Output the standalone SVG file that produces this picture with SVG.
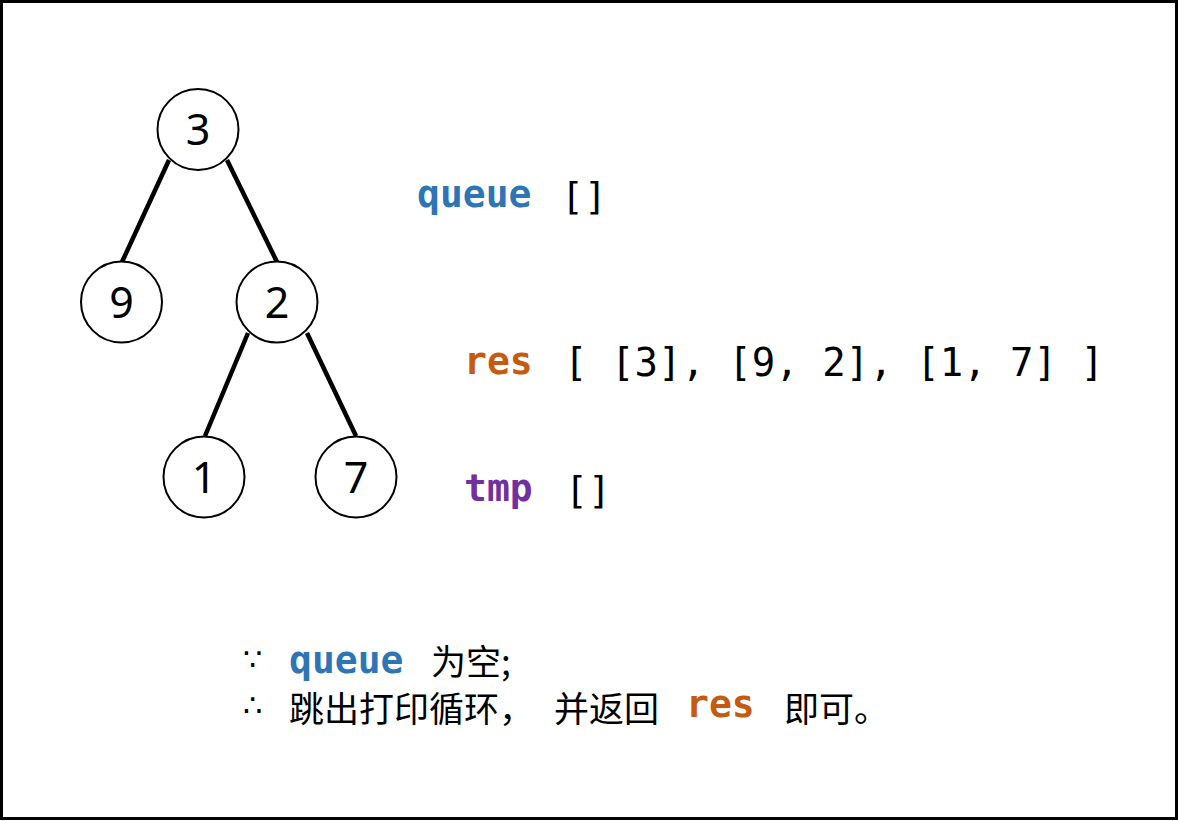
<svg xmlns="http://www.w3.org/2000/svg" width="1178" height="821" viewBox="0 0 1178 821">
<style>
.node circle{fill:#fff;stroke:#000;stroke-width:2}
.node text{font-family:"Noto Sans","Open Sans",sans-serif;font-size:43px;fill:#000;text-anchor:middle}
.edges line{stroke:#000;stroke-width:4.5}
.mono{font-family:"DejaVu Sans Mono","Liberation Mono",monospace;font-size:38px;fill:#000}
.kw{font-weight:bold}
.blue{fill:#2E75B6}
.orange{fill:#C55A11}
.purple{fill:#7030A0}
.cjk{font-family:"Noto Sans CJK SC","Noto Sans",sans-serif;font-size:35px;fill:#000}
.sym{font-family:"DejaVu Sans",sans-serif;font-size:31px;fill:#000}
</style>
<rect x="1.5" y="1.5" width="1175" height="817" fill="#fff" stroke="#000" stroke-width="3"/>
<g class="edges" id="connectors">
<line x1="169" y1="160" x2="122" y2="262"/>
<line x1="227" y1="160" x2="277" y2="262"/>
<line x1="248" y1="333" x2="205" y2="436"/>
<line x1="307" y1="333" x2="356" y2="436"/>
</g>
<g class="node" id="node-3"><circle cx="198" cy="129.5" r="40.5"/><text x="198" y="145">3</text></g>
<g class="node" id="node-9"><circle cx="121.5" cy="302" r="40.5"/><text x="121.5" y="317.5">9</text></g>
<g class="node" id="node-2"><circle cx="277" cy="302" r="40.5"/><text x="277" y="317.5">2</text></g>
<g class="node" id="node-1"><circle cx="204" cy="477" r="40.5"/><text x="204" y="492.5">1</text></g>
<g class="node" id="node-7"><circle cx="356" cy="477" r="40.5"/><text x="356" y="492.5">7</text></g>
<g id="queue-line">
<text class="mono kw blue" x="417" y="207">queue</text>
<text class="mono" x="561" y="209">[]</text>
</g>
<g id="res-line">
<text class="mono kw orange" x="464" y="374">res</text>
<text class="mono" x="564" y="376" style="font-size:39px">[ [3], [9, 2], [1, 7] ]</text>
</g>
<g id="tmp-line">
<text class="mono kw purple" x="464" y="501">tmp</text>
<text class="mono" x="565" y="503">[]</text>
</g>
<g id="conclusion">
<text class="sym" x="243" y="670">∵</text>
<text class="mono kw blue" x="289" y="673">queue</text>
<text class="cjk" x="431" y="675">为空;</text>
<text class="sym" x="243" y="716">∴</text>
<text class="cjk" x="289" y="722">跳出打印循环，</text>
<text class="cjk" x="554" y="722">并返回</text>
<text class="mono kw orange" x="686" y="717">res</text>
<text class="cjk" x="784" y="722">即可。</text>
</g>
</svg>
